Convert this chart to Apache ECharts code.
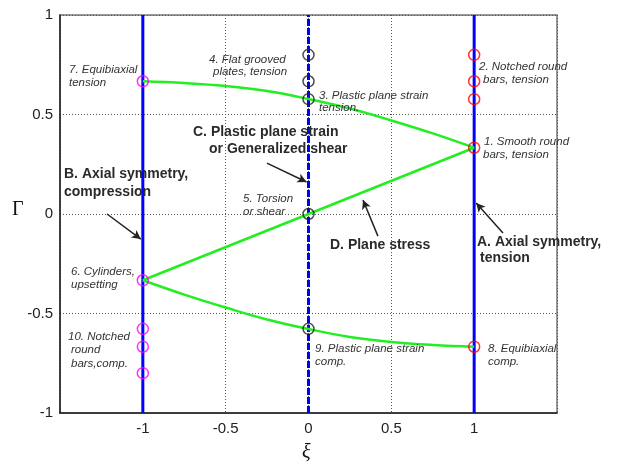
<!DOCTYPE html>
<html><head><meta charset="utf-8">
<script src="https://cdn.jsdelivr.net/npm/echarts@6/dist/echarts.min.js"></script>
<style>html,body{margin:0;padding:0;background:#fff}#c{width:622px;height:464px}</style>
</head><body><div id="c"></div>
<script>
// ---- data ----
var xiTicks = [-1, -0.5, 0, 0.5, 1];
var gammaTicks = [-1, -0.5, 0, 0.5, 1];
var stateLinesXi = [-1, 0, 1];           // axial symmetry (solid) and plane strain (dashed)
var upperXi = [-1, -0.75, -0.5, -0.25, 0, 0.25, 0.5, 0.75, 1];
var upperGamma = [0.667, 0.658, 0.643, 0.618, 0.578, 0.53, 0.47, 0.405, 0.333];
var middleXi = [-1, 0, 1];
var middleGamma = [-0.333, 0, 0.333];
var lowerXi = [-1, -0.75, -0.5, -0.25, 0, 0.25, 0.5, 0.75, 1];
var lowerGamma = [-0.333, -0.405, -0.47, -0.53, -0.578, -0.618, -0.643, -0.658, -0.667];
var magentaGamma = [0.667, -0.333, -0.577, -0.667, -0.8];   // at xi = -1
var blackGamma = [0.8, 0.667, 0.577, 0, -0.577];            // at xi = 0
var redGamma = [0.8, 0.667, 0.577, 0.333, -0.667];          // at xi = 1
var arrows = [
  [[-1.216, 0.0], [-1.012, -0.126]],
  [[-0.251, 0.256], [-0.012, 0.161]],
  [[0.419, -0.111], [0.329, 0.070]],
  [[1.174, -0.095], [1.012, 0.055]]
];
var smallLabels = [
  ['7. Equibiaxial', 69, 71], ['tension', 69, 84],
  ['4. Flat grooved', 209, 61], ['plates, tension', 213, 73],
  ['3. Plastic plane strain', 319, 97], ['tension.', 319, 109],
  ['2. Notched round', 479, 68], ['bars, tension', 483, 81],
  ['1. Smooth round', 484, 143], ['bars, tension', 483, 156],
  ['5. Torsion', 243, 200], ['or shear', 243, 213],
  ['6. Cylinders,', 71, 273], ['upsetting', 71, 286],
  ['10. Notched', 68, 338], ['round', 71, 351], ['bars,comp.', 71, 365],
  ['9. Plastic plane strain', 315, 350], ['comp.', 315, 363],
  ['8. Equibiaxial', 488, 350], ['comp.', 488, 363]
];
var bigLabels = [
  ['C. Plastic plane strain', 193, 133], ['or Generalized shear', 209, 150],
  ['B. Axial symmetry,', 64, 175], ['compression', 64, 193],
  ['A. Axial symmetry,', 477, 243], ['tension', 480, 259],
  ['D. Plane stress', 330, 246]
];

function zip(a, b) { return a.map(function (v, i) { return [v, b[i]]; }); }
function col(x, arr) { return arr.map(function (g) { return [x, g]; }); }

var FONT = '"Liberation Sans", Arial, sans-serif';
var series = [];
stateLinesXi.forEach(function (x) {
  series.push({
    type: 'line', data: [[x, -1], [x, 1]], symbol: 'none', silent: true, z: 2,
    lineStyle: { color: '#0000ff', width: 3, type: x === 0 ? [7, 2] : 'solid' }
  });
});
[[upperXi, upperGamma], [middleXi, middleGamma], [lowerXi, lowerGamma]].forEach(function (p, i) {
  series.push({
    type: 'line', data: zip(p[0], p[1]), symbol: 'none', smooth: i !== 1 ? 0.4 : false, z: 3,
    lineStyle: { color: '#22ee22', width: 2.5 }
  });
});
[[-1, magentaGamma, '#ff00ff'], [0, blackGamma, '#222222'], [1, redGamma, '#ff0000']].forEach(function (m) {
  series.push({
    type: 'scatter', data: col(m[0], m[1]), symbol: 'circle', symbolSize: 11, z: 5,
    itemStyle: { color: 'rgba(0,0,0,0)', borderColor: m[2], borderWidth: 1.5 }
  });
});
series.push({
  type: 'line', data: [], z: 6,
  markLine: {
    silent: true, symbol: ['none', 'arrow'], symbolSize: [7, 9], label: { show: false },
    lineStyle: { color: '#222', width: 1.5, type: 'solid' },
    data: arrows.map(function (a) { return [{ coord: a[0] }, { coord: a[1] }]; })
  }
});

var graphics = [];
smallLabels.forEach(function (l) {
  graphics.push({ type: 'text', left: l[1], top: l[2] - 7, z: 10,
    style: { text: l[0], fill: '#333', font: 'italic 11.5px ' + FONT } });
});
bigLabels.forEach(function (l) {
  graphics.push({ type: 'text', left: l[1], top: l[2] - 8, z: 10,
    style: { text: l[0], fill: '#2a2a2a', font: 'bold 14px ' + FONT } });
});
graphics.push({ type: 'text', left: 12, top: 200, style: { text: 'Γ', fill: '#111', font: '20px "Liberation Serif", "DejaVu Serif", serif' } });
graphics.push({ type: 'text', left: 302, top: 443, style: { text: 'ξ', fill: '#111', font: 'italic 20px "Liberation Serif", "DejaVu Serif", serif' } });

var chart = echarts.init(document.getElementById('c'), null, { renderer: 'canvas' });
chart.setOption({
  animation: false,
  backgroundColor: '#fff',
  grid: { left: 60, right: 65, top: 15, bottom: 51, show: true, borderColor: '#777', borderWidth: 1.5 },
  xAxis: {
    type: 'value', min: -1.5, max: 1.5, interval: 0.5,
    axisLine: { show: true, onZero: false, lineStyle: { color: '#222', width: 1.5 } },
    axisTick: { show: false },
    axisLabel: { color: '#222', fontSize: 15, fontFamily: FONT, margin: 8,
      formatter: function (v) { return xiTicks.indexOf(v) >= 0 ? String(v) : ''; } },
    splitLine: { show: true, lineStyle: { color: '#555', type: [1, 2], width: 1 } }
  },
  yAxis: {
    type: 'value', min: -1, max: 1, interval: 0.5,
    axisLine: { show: true, onZero: false, lineStyle: { color: '#222', width: 1.5 } },
    axisTick: { show: false },
    axisLabel: { color: '#222', fontSize: 15, fontFamily: FONT, margin: 7,
      formatter: function (v) { return gammaTicks.indexOf(v) >= 0 ? String(v) : ''; } },
    splitLine: { show: true, lineStyle: { color: '#555', type: [1, 2], width: 1 } }
  },
  series: series,
  graphic: graphics
});
</script></body></html>
